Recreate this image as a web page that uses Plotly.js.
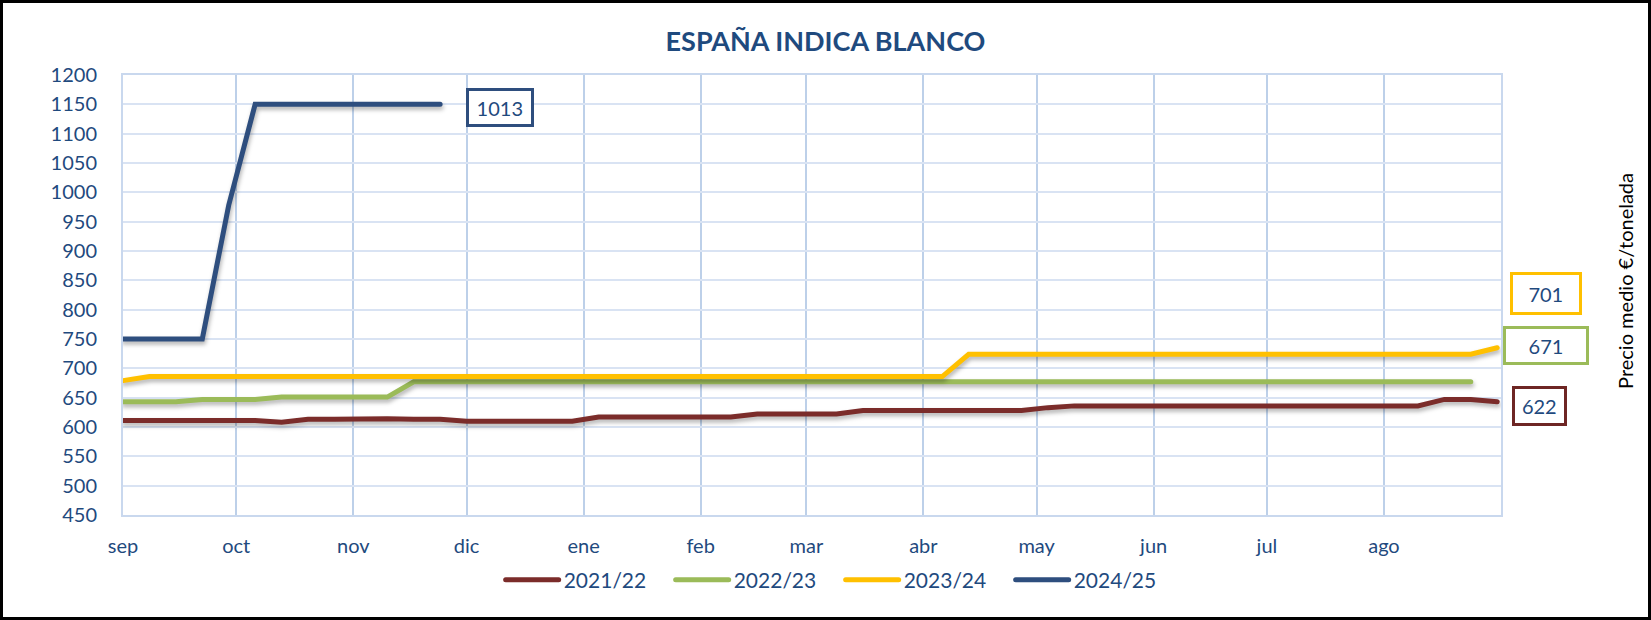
<!DOCTYPE html>
<html>
<head>
<meta charset="utf-8">
<script src="https://cdn.plot.ly/plotly-3.0.1.min.js"></script>
<style>
  html, body { margin: 0; padding: 0; background: #fff; }
  #wrap { position: relative; width: 1651px; height: 620px; }
  #wrap::after { content: ''; position: absolute; left: 0; top: 0; right: 0; bottom: 0;
    border: 3px solid #000; pointer-events: none; }
  #chart { width: 1651px; height: 620px; }
  .scatterlayer path.js-line { filter: drop-shadow(1px 3px 2px rgba(0,0,0,0.30)); stroke-linecap: round; }
  .legend path.js-line { stroke-linecap: round; }
</style>
</head>
<body>
<div id="wrap"><div id="chart"></div></div>
<script>
// weekly observation dates (one campaign, Sep -> Aug)
const weeks = [
  '2021-09-01','2021-09-08','2021-09-15','2021-09-22','2021-09-29',
  '2021-10-06','2021-10-13','2021-10-20','2021-10-27',
  '2021-11-03','2021-11-10','2021-11-17','2021-11-24',
  '2021-12-01','2021-12-08','2021-12-15','2021-12-22','2021-12-29',
  '2022-01-05','2022-01-12','2022-01-19','2022-01-26',
  '2022-02-02','2022-02-09','2022-02-16','2022-02-23',
  '2022-03-02','2022-03-09','2022-03-16','2022-03-23','2022-03-30',
  '2022-04-06','2022-04-13','2022-04-20','2022-04-27',
  '2022-05-04','2022-05-11','2022-05-18','2022-05-25',
  '2022-06-01','2022-06-08','2022-06-15','2022-06-22','2022-06-29',
  '2022-07-06','2022-07-13','2022-07-20','2022-07-27',
  '2022-08-03','2022-08-10','2022-08-17','2022-08-24','2022-08-31'
];

const monthTicks = ['2021-09-01','2021-10-01','2021-11-01','2021-12-01','2022-01-01','2022-02-01',
                    '2022-03-01','2022-04-01','2022-05-01','2022-06-01','2022-07-01','2022-08-01'];
const monthLabels = ['sep','oct','nov','dic','ene','feb','mar','abr','may','jun','jul','ago'];

const seriesNames = ['2021/22','2022/23','2023/24','2024/25'];

const s2122 = [611,611,611,611,611,611,608,613,613,614,614,613,613,
               610,610,610,610,610,617,617,617,617,617,617,622,622,622,622,
               628,628,628,628,628,628,628,633,636,636,636,636,636,636,636,
               636,636,636,636,636,636,636,647,647,643];
const s2223 = [643,643,643,647,647,647,651,651,651,651,651,677,677,
               677,677,677,677,677,677,677,677,677,677,677,677,677,677,677,
               677,677,677,677,677,677,677,677,677,677,677,677,677,677,677,
               677,677,677,677,677,677,677,677,677];
const s2324 = [679,686,686,686,686,686,686,686,686,686,686,686,686,
               686,686,686,686,686,686,686,686,686,686,686,686,686,686,686,
               686,686,686,686,724,724,724,724,724,724,724,724,724,724,724,
               724,724,724,724,724,724,724,724,724,735];
const s2425 = [750,750,750,750,978,1150,1150,1150,1150,1150,1150,1150,1150];

const endLabels = ['622','671','701','1013'];

const colors = ['#7B2C2A','#9BBB59','#FFC000','#2E4E7E'];
const allSeries = [s2122, s2223, s2324, s2425];

const textBlue = '#1F4A7E';
const FONT = 'Lato, "Open Sans", sans-serif';

const traces = allSeries.map((vals, i) => ({
  type: 'scatter', mode: 'lines',
  name: seriesNames[i],
  x: weeks.slice(0, vals.length),
  y: vals,
  line: { color: colors[i], width: 5 },
  hoverinfo: 'skip'
}));

// plot area in pixels: x 123..1501, y 75..515
const boxes = [
  { text: endLabels[0], x: 1.0283, y: 0.2473, w: 48.6, h: 33.7, c: '#6E2624' },
  { text: endLabels[1], x: 1.0329, y: 0.3845, w: 80,   h: 33,   c: '#9BBB59' },
  { text: endLabels[2], x: 1.0330, y: 0.5027, w: 65.6, h: 37,   c: '#FFC000' },
  { text: endLabels[3], x: 0.2734, y: 0.925,  w: 61.6, h: 33.4, c: '#2E4E7E' }
];

const annotations = boxes.map(b => ({
  xref: 'paper', yref: 'paper', x: b.x, y: b.y, xanchor: 'center', yanchor: 'middle',
  text: b.text, showarrow: false, width: b.w, height: b.h,
  bordercolor: b.c, borderwidth: 3, borderpad: 0, bgcolor: '#fff',
  font: { family: FONT, size: 20, color: textBlue }
}));

annotations.push({
  xref: 'paper', yref: 'paper', x: 1.090, y: 0.532, xanchor: 'center', yanchor: 'middle',
  text: 'Precio medio €/tonelada', textangle: -90, showarrow: false,
  font: { family: FONT, size: 20, color: '#000' }
});

const layout = {
  width: 1651, height: 620,
  margin: { l: 123, r: 150, t: 75, b: 105 },
  paper_bgcolor: '#fff', plot_bgcolor: '#fff',
  title: {
    text: '<b>ESPAÑA INDICA BLANCO</b>',
    font: { family: FONT, size: 27, color: textBlue },
    x: 0.5, xref: 'container', xanchor: 'center',
    y: 1 - 42 / 620, yref: 'container', yanchor: 'middle'
  },
  xaxis: {
    type: 'date',
    range: ['2021-09-01', '2022-09-01'],
    tickmode: 'array', tickvals: monthTicks, ticktext: monthLabels,
    showgrid: true, gridcolor: '#BDD0E9', gridwidth: 2,
    showline: true, linecolor: '#C9D8EE', linewidth: 2, mirror: true,
    ticks: '', ticklabelstandoff: 12,
    tickfont: { family: FONT, size: 20, color: textBlue },
    zeroline: false, fixedrange: true
  },
  yaxis: {
    range: [450, 1200], dtick: 50, tick0: 450,
    showgrid: true, gridcolor: '#D9E3F3', gridwidth: 2,
    showline: true, linecolor: '#C9D8EE', linewidth: 2, mirror: true,
    ticks: '', ticklabelstandoff: 20,
    tickfont: { family: FONT, size: 20, color: textBlue },
    zeroline: false, fixedrange: true
  },
  showlegend: true,
  legend: {
    orientation: 'h', x: 0.5208, xanchor: 'center', y: -0.1477, yanchor: 'middle',
    font: { family: FONT, size: 21, color: textBlue },
    itemwidth: 53, entrywidth: 102, traceorder: 'normal', bgcolor: 'rgba(0,0,0,0)'
  },
  annotations: annotations
};

Plotly.newPlot('chart', traces, layout, { displayModeBar: false, staticPlot: true });
</script>
</body>
</html>
